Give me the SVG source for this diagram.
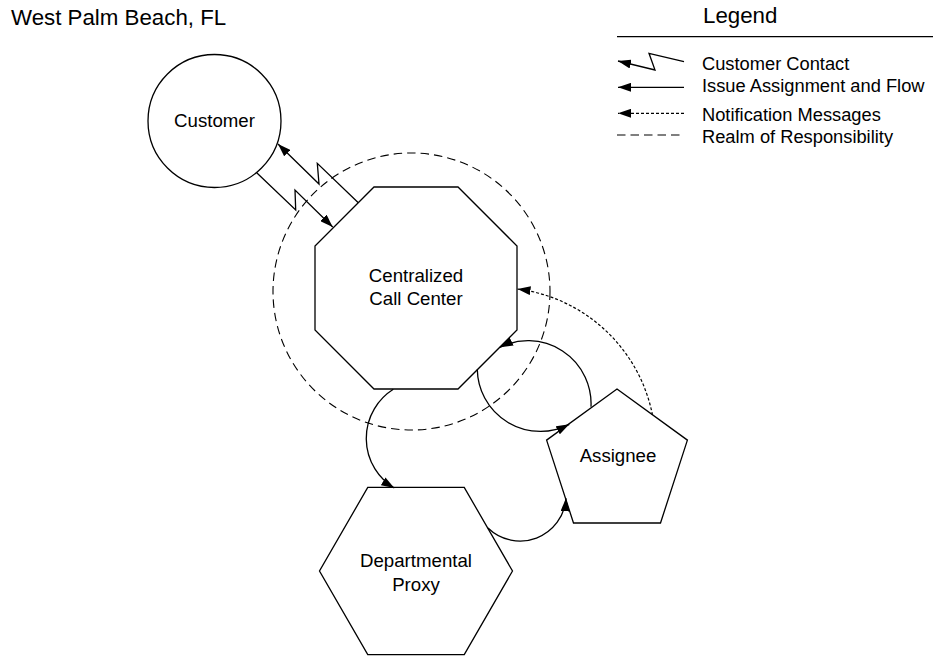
<svg xmlns="http://www.w3.org/2000/svg" width="933" height="660" viewBox="0 0 933 660">
<style>
text{font-family:"Liberation Sans",Arial,sans-serif;fill:#000}
.title{font-size:22.3px}
.lbl{font-size:18.67px;text-anchor:middle}
.leg{font-size:18.3px}
.shape{fill:#fff;stroke:#000;stroke-width:1.3}
.conn{fill:none;stroke:#000;stroke-width:1.3}
.dot{fill:none;stroke:#000;stroke-width:1.2;stroke-dasharray:3,2}
.dash{fill:none;stroke:#000;stroke-width:1.1;stroke-dasharray:8.5,5}
</style>
<defs>
<marker id="ah" markerUnits="userSpaceOnUse" viewBox="0 0 13 9" markerWidth="13" markerHeight="9" refX="13" refY="4.5" orient="auto">
<path d="M0,0 L13,4.5 L0,9 z" fill="#000" stroke="none"/>
</marker>
</defs>
<rect width="933" height="660" fill="#fff"/>
<text class="title" x="11" y="25">West Palm Beach, FL</text>
<g id="legend">
<text class="title" x="703" y="23">Legend</text>
<line x1="617" y1="36.7" x2="933" y2="36.7" stroke="#000" stroke-width="1.3"/>
<path class="conn" d="M684,61.7 L649,53.3 L655,70 L618,61" marker-end="url(#ah)"/>
<line class="conn" x1="684" y1="87.3" x2="618" y2="87.3" marker-end="url(#ah)"/>
<line class="dot" x1="684" y1="113.3" x2="618" y2="113.3" marker-end="url(#ah)"/>
<line class="dash" x1="617" y1="135" x2="684" y2="135" stroke-dasharray="7,4"/>
<text class="leg" x="702" y="70">Customer Contact</text>
<text class="leg" x="702" y="92.3">Issue Assignment and Flow</text>
<text class="leg" x="702" y="120.7">Notification Messages</text>
<text class="leg" x="702" y="143.3">Realm of Responsibility</text>
</g>
<g id="customer">
<circle class="shape" cx="214.5" cy="121" r="66.5"/>
<text class="lbl" x="214.5" y="127">Customer</text>
</g>
<g id="realm">
<circle class="dash" cx="411.5" cy="291.5" r="138.5"/>
</g>
<g id="callcenter">
<polygon class="shape" points="374,187 458,187 517,246 517,330 458,389 374,389 315,330 315,246"/>
<text class="lbl" x="416" y="282.3">Centralized</text>
<text class="lbl" x="416" y="305">Call Center</text>
</g>
<g id="assignee">
<polygon class="shape" points="617,389 687.4,440.1 660.5,523 573.5,523 546.6,440.1"/>
<text class="lbl" x="618" y="462.3">Assignee</text>
</g>
<g id="proxy">
<polygon class="shape" points="512.5,571 464.25,654.6 367.75,654.6 319.5,571 367.75,487.4 464.25,487.4"/>
<text class="lbl" x="416" y="567.3">Departmental</text>
<text class="lbl" x="416" y="590.7">Proxy</text>
</g>
<g id="connectors">
<path class="conn" d="M358.3,202.7 L317.3,163.3 L319,184 L278,144" marker-end="url(#ah)"/>
<path class="conn" d="M256.7,172.7 L295.7,210 L295,190 L332.7,227" marker-end="url(#ah)"/>
<path class="dot" d="M652.5,415 A158,158 0 0 0 517.5,289" marker-end="url(#ah)"/>
<path class="conn" d="M477.3,369.5 A63,63 0 0 0 569.3,424.3" marker-end="url(#ah)"/>
<path class="conn" d="M591,406.7 A63,63 0 0 0 500,347.3" marker-end="url(#ah)"/>
<path class="conn" d="M393.3,389.3 A58,58 0 0 0 394.3,488" marker-end="url(#ah)"/>
<path class="conn" d="M488,528 A46,46 0 0 0 566,498.3" marker-end="url(#ah)"/>
</g>
</svg>
